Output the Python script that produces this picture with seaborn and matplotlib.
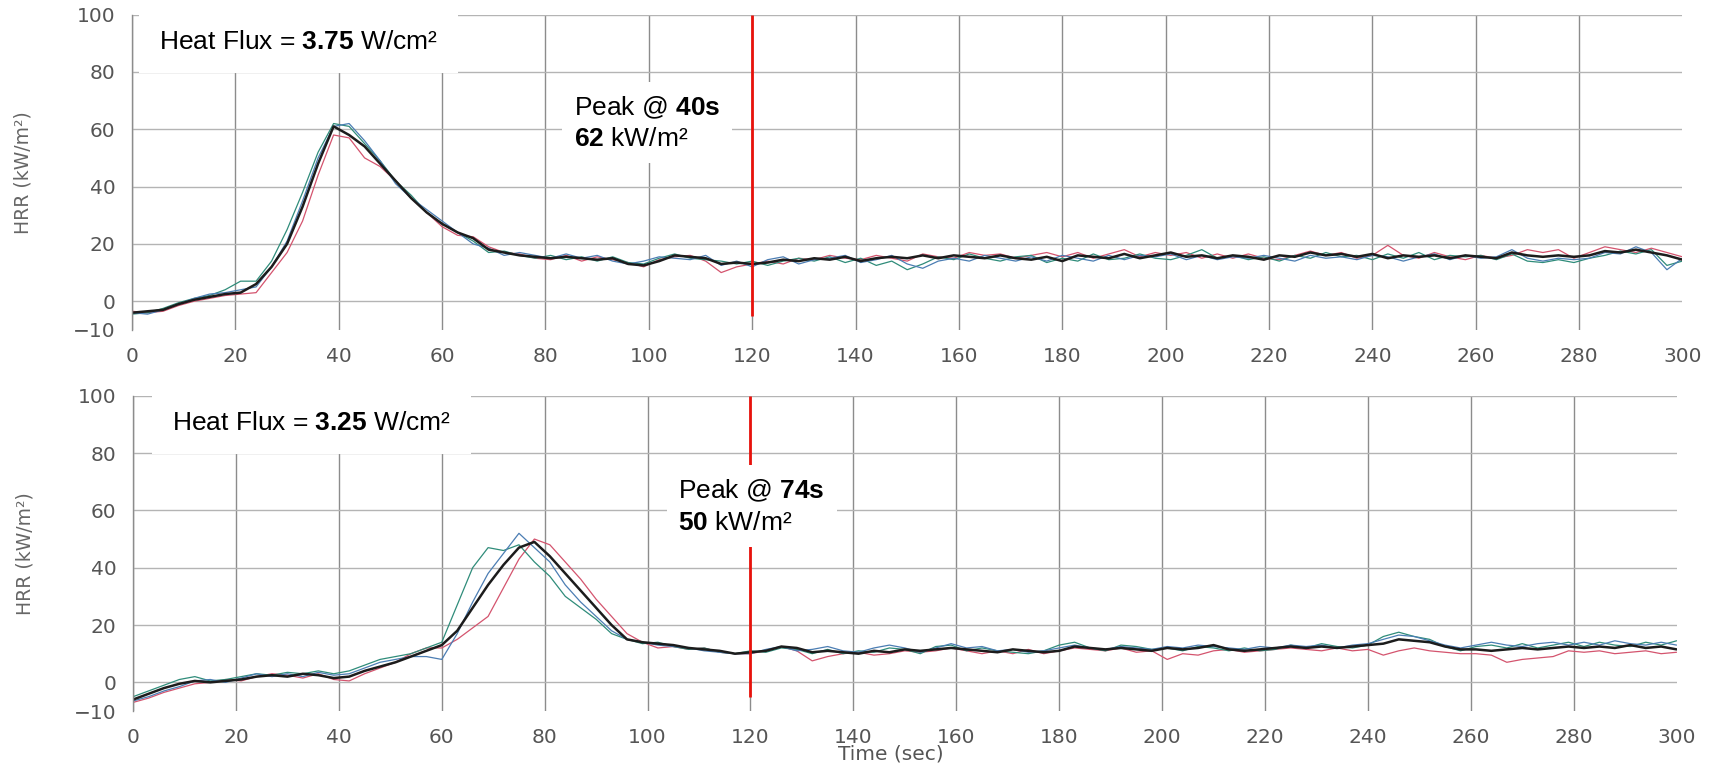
import matplotlib
matplotlib.use("Agg")
import matplotlib.pyplot as plt
import pandas as pd
import seaborn as sns

# sample times (s), one value every 3 s
time_s = list(range(0, 301, 3))

# upper panel, heat flux 3.75 W/cm2
top_mean = [
    -4, -3.5, -3, -1, 0.5, 1.5, 2.5, 3, 6, 12,
    20, 33, 48, 61, 58, 54, 48, 42, 36, 31,
    27, 24, 22, 18, 17, 16, 15.5, 15, 15.5, 15,
    14.5, 15, 13, 12.5, 14, 16, 15.5, 15, 13, 13.5,
    13, 13.5, 14.5, 14, 15, 14.5, 15.5, 14, 15, 15.5,
    15, 16, 15, 16, 15.5, 15, 16, 15, 14.5, 15.5,
    14, 16, 15.5, 15, 16.5, 15, 16, 17, 15.5, 16,
    15, 16, 15.5, 14.5, 16, 15.5, 17, 16, 16.5, 15.5,
    16.5, 15, 16, 15.5, 16, 15, 16, 15.5, 15, 17,
    16, 15.5, 16, 15.5, 16, 17.5, 17, 18, 17, 16,
    14.5,
]
top_teal = [
    -4.5, -4, -2.5, -0.5, 1, 2, 4, 7, 7, 14,
    25, 38, 52, 62, 61, 55, 49, 42, 37, 31,
    27, 24, 21, 17, 17.5, 16, 15, 16, 14.5, 15.5,
    14, 15.5, 13.5, 13, 15, 16.5, 15, 14.5, 14, 13,
    14, 12.5, 14, 15, 14, 15.5, 13.5, 15, 12.5, 14,
    11, 13, 15.5, 14.5, 16.5, 15, 14, 15.5, 16, 13.5,
    15, 14, 16.5, 14.5, 15, 16.5, 15, 14.5, 16, 18,
    15, 16, 14.5, 15.5, 14, 16, 15, 17, 15.5, 16,
    14.5, 16.5, 15, 17, 14.5, 16, 15.5, 16, 14.5, 16.5,
    14, 13.5, 14.5, 13.5, 15, 16, 17.5, 16.5, 18, 12.5,
    14,
]
top_red = [
    -3.5, -4, -3.5, -1.5, 0, 1, 2, 2.5, 3, 10,
    17, 28, 44, 58, 57, 50, 47, 42, 36, 31,
    26, 23, 22.5, 19, 17, 16.5, 15, 14.5, 16, 14,
    15.5, 14.5, 13.5, 12, 14.5, 15.5, 16, 14, 10, 12,
    13, 14, 13, 15, 14.5, 16, 15, 14.5, 16, 15,
    14, 16.5, 15.5, 15, 17, 16, 16.5, 15, 16, 17,
    15.5, 17, 15, 16.5, 18, 15.5, 17, 16, 17, 15,
    16.5, 15, 16.5, 15, 14.5, 16, 17.5, 16, 17, 15,
    16, 19.5, 16, 15, 17, 15.5, 14.5, 16, 15, 16,
    18, 17, 18, 15, 17, 19, 18, 17, 18.5, 17,
    15.5,
]
top_blue = [
    -4, -4.5, -3, -1, 1, 2.5, 3, 4, 5, 12,
    21, 35, 50, 61, 62, 56, 49, 41, 36, 32,
    28, 24, 20, 18.5, 16, 17, 16, 15, 16.5, 15,
    16, 14, 13, 14, 15.5, 15, 14.5, 16, 12.5, 14,
    12, 14.5, 15.5, 13, 14.5, 15, 16, 13.5, 14.5, 16,
    13, 11.5, 14, 15, 14, 16, 15, 14, 15.5, 14,
    16, 15, 14, 16, 14.5, 16, 15.5, 16.5, 14.5, 16,
    14.5, 15.5, 15, 16, 15, 14, 16, 15, 15.5, 14.5,
    16, 15.5, 14, 15.5, 16.5, 14.5, 16, 15, 15.5, 18,
    15, 14, 15, 14.5, 15, 17, 16.5, 19, 17, 11,
    15,
]

# lower panel, heat flux 3.25 W/cm2
bot_mean = [
    -6, -4, -2, -0.5, 0.5, 0, 0.5, 1, 2, 2.5,
    2, 3, 2.5, 1.5, 2, 4, 5.5, 7, 9, 11,
    13, 18, 26, 34, 41, 47, 49, 44, 38, 32,
    26, 20, 15, 14, 13.5, 13, 12, 11.5, 11, 10,
    10.5, 11, 12.5, 12, 10.5, 11, 10.5, 10, 11, 10.5,
    11.5, 11, 11.5, 12, 11.5, 11, 10.5, 11.5, 11, 10.5,
    11, 12.5, 12, 11.5, 12, 11.5, 11, 12, 11.5, 12,
    13, 11.5, 11, 11.5, 12, 12.5, 12, 12.5, 12, 12.5,
    13, 13.5, 15, 14.5, 14, 12.5, 11.5, 11.5, 11, 11.5,
    12, 11.5, 12, 12.5, 12, 12.5, 12, 13, 12, 12.5,
    11.5,
]
bot_teal = [
    -5, -3, -1, 1, 2, 0.5, 1, 2, 3, 2.5,
    3.5, 3, 4, 3, 4, 6, 8, 9, 10, 12,
    14, 27, 40, 47, 46, 48, 42, 37, 30, 26,
    22, 17, 15, 13.5, 14, 12.5, 11.5, 12, 10.5, 10,
    11, 10.5, 12, 11.5, 10, 11.5, 10, 11, 10.5, 12,
    11.5, 10, 12.5, 13, 11, 12, 11, 10.5, 10, 11,
    13, 14, 12, 11, 13, 12.5, 11.5, 12, 11, 12.5,
    12, 11, 12, 11, 11.5, 13, 12, 13.5, 12.5, 12,
    13, 16, 17.5, 16, 15, 12.5, 11, 12.5, 13, 12,
    13.5, 12, 13, 14, 12.5, 14, 13, 12.5, 14, 13,
    14.5,
]
bot_red = [
    -7, -5.5, -3.5, -2, -0.5, 0, 1, 0.5, 2, 3,
    2.5, 1.5, 3, 1, 0.5, 3, 5, 7, 10, 12,
    12, 15, 19, 23, 33, 43, 50, 48, 42, 36,
    29, 23, 17, 14, 12, 12.5, 11.5, 12, 10.5, 10,
    10, 11, 12.5, 11, 7.5, 9, 10, 10.5, 9.5, 10,
    11, 10.5, 11, 12, 11, 10, 11, 10, 11.5, 10,
    11, 12, 11.5, 11, 12, 10.5, 11, 8, 10, 9.5,
    11, 11.5, 10.5, 11, 11.5, 12, 11.5, 11, 12, 11,
    11.5, 9.5, 11, 12, 11, 10.5, 10, 10, 9.5, 7,
    8, 8.5, 9, 11, 10.5, 11, 10, 10.5, 11, 10,
    10.5,
]
bot_blue = [
    -6.5, -5, -3, -1.5, 0.5, 1, 0, 1.5, 3, 2,
    3, 2, 3.5, 2.5, 3, 5, 7, 8, 9, 9,
    8, 17, 28, 38, 45, 52, 47, 42, 34, 28,
    23, 18, 15, 14, 13, 12.5, 12, 11, 10.5, 10,
    10, 11.5, 12.5, 11, 11.5, 12.5, 11, 10.5, 12, 13,
    12, 10.5, 12, 13.5, 12, 12.5, 11, 11.5, 10.5, 11,
    12, 13, 12, 11.5, 12.5, 12, 11.5, 12.5, 12, 13,
    12.5, 12, 11.5, 12.5, 12, 13, 12.5, 13, 12, 13,
    13.5, 15, 16.5, 16, 14.5, 13, 12, 13, 14, 13,
    12.5, 13.5, 14, 13, 14, 13, 14.5, 13.5, 13, 14,
    13,
]

x_ticks = list(range(0, 301, 20))
y_ticks = [-10, 0, 20, 40, 60, 80, 100]

run_order = ["red", "teal", "blue", "mean"]
run_colors = {"red": "#d4546e", "teal": "#2f8c7a", "blue": "#4b7db3", "mean": "#1c1c1c"}
run_widths = {"red": 0.9, "teal": 0.9, "blue": 0.9, "mean": 1.8}


def panel_frame(series):
    frames = []
    for name, vals in series.items():
        frames.append(pd.DataFrame({"time": time_s, "hrr": vals, "run": name}))
    return pd.concat(frames, ignore_index=True)


def style_axis(ax):
    ax.set_xlim(0, 300)
    ax.set_ylim(-10, 100)
    ax.set_xticks(x_ticks)
    ax.set_yticks(y_ticks)
    ax.set_axisbelow(True)
    ax.grid(True, axis="x", color="#8c8c8c", lw=1.0)
    ax.grid(True, axis="y", color="#b4b4b4", lw=1.0)
    for gl, t in zip(ax.get_xgridlines(), x_ticks):
        if t == 300:
            gl.set_visible(False)
    for gl, t in zip(ax.get_ygridlines(), y_ticks):
        if t == -10:
            gl.set_visible(False)
    for side in ["top", "right", "bottom"]:
        ax.spines[side].set_visible(False)
    ax.spines["left"].set_color("#8c8c8c")
    ax.spines["left"].set_linewidth(1.0)
    ax.tick_params(direction="out", length=7, width=1, color="#777777",
                   labelcolor="#555555", labelsize=14.5, pad=5)
    ax.set_xlabel("")
    ax.set_ylabel("HRR (kW/m²)", color="#666666", fontsize=13.5)
    ax.yaxis.set_label_coords(-0.064, 0.5)


sns.set_style("white")
plt.rcParams["font.family"] = ["DejaVu Sans"]
plt.rcParams["mathtext.fontset"] = "custom"
plt.rcParams["mathtext.rm"] = "Liberation Sans"
plt.rcParams["mathtext.bf"] = "Liberation Sans:bold"

fig = plt.figure(figsize=(17.15, 7.69), dpi=100)
ax_top = fig.add_axes([0.077, 0.571, 0.904, 0.410])
ax_bot = fig.add_axes([0.0776, 0.0754, 0.900, 0.410])

panels = [
    (ax_top, {"red": top_red, "teal": top_teal, "blue": top_blue, "mean": top_mean},
     "3.75", "40s", "62", (5.2, 90.6), (85.5, 62.3)),
    (ax_bot, {"red": bot_red, "teal": bot_teal, "blue": bot_blue, "mean": bot_mean},
     "3.25", "74s", "50", (7.6, 90.6), (106, 61.4)),
]

ann_font = dict(family="Liberation Sans", fontsize=19, color="black")

for ax, series, flux, peak_t, peak_v, flux_xy, peak_xy in panels:
    df = panel_frame(series)
    sns.lineplot(data=df, x="time", y="hrr", hue="run", hue_order=run_order,
                 palette=run_colors, size="run", size_order=run_order,
                 sizes=run_widths, estimator=None, legend=False, ax=ax, zorder=2)
    style_axis(ax)
    ax.vlines(120, -5, 100, color="#e8120c", lw=2, zorder=3)
    ax.text(flux_xy[0], flux_xy[1], "Heat Flux = $\\mathbf{" + flux + "}$ W/cm²",
            ha="left", va="center", zorder=4,
            bbox=dict(boxstyle="square,pad=0.75", facecolor="white", edgecolor="none"),
            **ann_font)
    ax.text(peak_xy[0], peak_xy[1],
            "Peak @ $\\mathbf{" + peak_t + "}$\n$\\mathbf{" + peak_v + "}$ kW/m²",
            ha="left", va="center", linespacing=1.35, zorder=4,
            bbox=dict(boxstyle="square,pad=0.45", facecolor="white", edgecolor="none"),
            **ann_font)

ax_bot.set_xlabel("Time (sec)", color="#555555", fontsize=14.5, labelpad=2)
ax_bot.xaxis.set_label_coords(0.491, -0.105)

fig.savefig("out.png", dpi=100)
